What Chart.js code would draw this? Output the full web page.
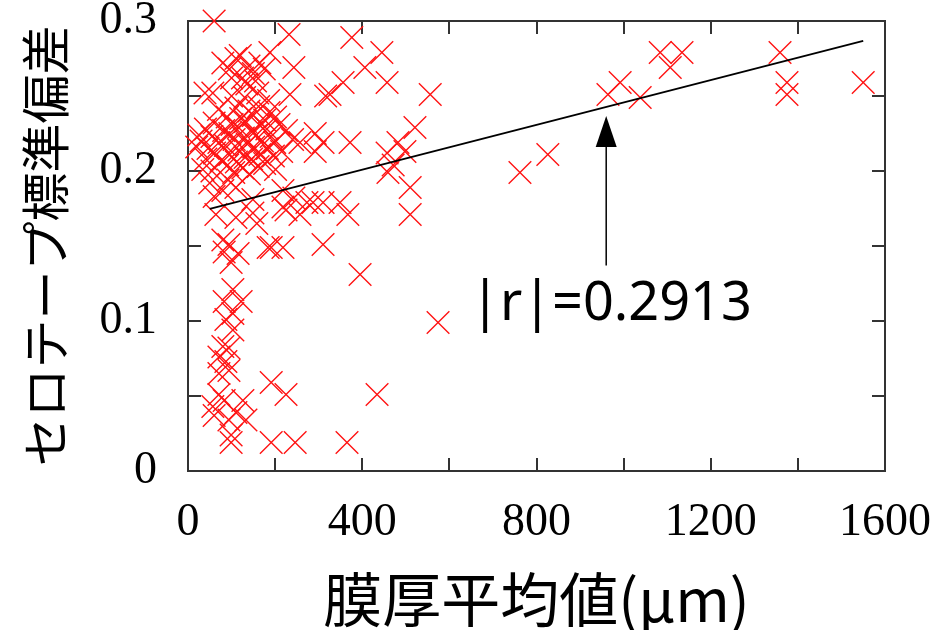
<!DOCTYPE html>
<html>
<head>
<meta charset="utf-8">
<script src="https://cdn.jsdelivr.net/npm/chart.js@4.4.1/dist/chart.umd.min.js"></script>
<style>
  html, body { margin: 0; padding: 0; background: #fff; }
  canvas { display: block; }
</style>
</head>
<body>
<canvas id="grafico" width="940" height="630"></canvas>
<script>
// datos (膜厚平均値 μm / セロテープ標準偏差)
var espesor = [
  60, 232, 188, 243, 376, 445, 406, 457, 356, 326, 316, 556, 521, 482, 372, 310, 292, 257, 292, 457,
  498, 471, 459, 510, 510, 273, 310, 349, 367, 257, 310, 218, 287, 762, 826, 964, 992, 1038, 1084, 1134,
  1107, 1359, 1375, 1375, 1550, 395, 574, 434, 365, 246, 191, 99, 191, 225,
  94, 83, 115, 99, 191, 184, 218, 103, 83, 122, 103, 87, 103, 80, 94, 71,
  87, 94, 71, 71, 83, 126, 57, 110, 60, 94, 133, 99,
  34, 110, 80, 60, 149, 218, 243, 64, 110, 149, 225, 50, 92, 158, 80,
  80, 95, 110, 125, 140, 150, 165, 175, 100, 120, 135, 155,
  39, 57, 100, 130, 160, 185, 234,
  70, 110, 140, 162, 186, 90, 121, 150, 176, 201, 60, 101, 132, 166, 209,
  40, 82, 116, 146, 181, 226, 25, 55, 96, 127, 157, 191,
  30, 71, 106, 136, 171, 199, 240, 20, 46, 86, 117, 151, 182, 215,
  61, 96, 131, 165, 196, 41, 76, 111, 146, 176, 91, 126, 161, 201, 55, 105, 141
];
var desviacion = [
  0.300, 0.291, 0.279, 0.269, 0.289, 0.279, 0.269, 0.259, 0.259, 0.251, 0.250, 0.251, 0.229, 0.219, 0.219, 0.219, 0.225, 0.219, 0.213, 0.212,
  0.213, 0.204, 0.199, 0.189, 0.171, 0.179, 0.179, 0.179, 0.171, 0.171, 0.151, 0.176, 0.179, 0.199, 0.211, 0.251, 0.259, 0.249, 0.279, 0.279,
  0.269, 0.279, 0.259, 0.251, 0.259, 0.131, 0.099, 0.051, 0.019, 0.019, 0.019, 0.019, 0.059, 0.051,
  0.151, 0.146, 0.145, 0.139, 0.149, 0.149, 0.149, 0.121, 0.113, 0.113, 0.105, 0.101, 0.094, 0.083, 0.082, 0.076,
  0.073, 0.067, 0.065, 0.051, 0.047, 0.047, 0.043, 0.039, 0.037, 0.034, 0.034, 0.024,
  0.201, 0.189, 0.187, 0.183, 0.181, 0.187, 0.182, 0.171, 0.169, 0.172, 0.174, 0.192, 0.194, 0.165, 0.154,
  0.272, 0.268, 0.275, 0.262, 0.270, 0.265, 0.272, 0.268, 0.262, 0.277, 0.258, 0.260,
  0.252, 0.252, 0.250, 0.249, 0.252, 0.247, 0.251,
  0.241, 0.242, 0.240, 0.243, 0.239, 0.236, 0.235, 0.237, 0.234, 0.236, 0.232, 0.231, 0.233, 0.230, 0.231,
  0.228, 0.227, 0.229, 0.226, 0.228, 0.227, 0.224, 0.223, 0.225, 0.222, 0.224, 0.223,
  0.220, 0.219, 0.221, 0.218, 0.220, 0.219, 0.221, 0.216, 0.215, 0.217, 0.214, 0.216, 0.215, 0.213,
  0.212, 0.211, 0.209, 0.211, 0.210, 0.208, 0.207, 0.206, 0.208, 0.205, 0.204, 0.202, 0.203, 0.201, 0.200, 0.199, 0.198
];

// recta de regresion
var rectaX = [50, 1550];
var rectaY = [0.1747, 0.2867];

var etiquetaR = '|r|=0.2913';

var puntos = espesor.map(function(x, i) { return {x: x, y: desviacion[i]}; });
var recta = rectaX.map(function(x, i) { return {x: x, y: rectaY[i]}; });

// flecha y texto (coordenadas en unidades de datos)
var flecha = {x: 960, desde: 0.137, hasta: 0.2367};
var posTexto = {x: 648, y: 0.1007};

function sinRelleno(s) {
  s.paddingTop = 0; s.paddingBottom = 0;
  s.paddingLeft = 0; s.paddingRight = 0;
}

var marco = {
  id: 'marco',
  beforeDatasetsDraw: function(chart) {
    var ctx = chart.ctx, a = chart.chartArea;
    var sx = chart.scales.x, sy = chart.scales.y;
    var largo = 13;
    ctx.save();
    ctx.strokeStyle = '#333';
    ctx.lineWidth = 2;
    ctx.beginPath();
    sx.ticks.forEach(function(t) {
      var p = Math.round(sx.getPixelForValue(t.value));
      ctx.moveTo(p, a.bottom); ctx.lineTo(p, a.bottom - largo);
      ctx.moveTo(p, a.top); ctx.lineTo(p, a.top + largo);
    });
    sy.ticks.forEach(function(t) {
      var p = Math.round(sy.getPixelForValue(t.value));
      ctx.moveTo(a.left, p); ctx.lineTo(a.left + largo, p);
      ctx.moveTo(a.right, p); ctx.lineTo(a.right - largo, p);
    });
    ctx.stroke();
    ctx.strokeRect(a.left, a.top, a.right - a.left, a.bottom - a.top);
    ctx.restore();
  },
  afterDatasetsDraw: function(chart) {
    var ctx = chart.ctx;
    var sx = chart.scales.x, sy = chart.scales.y;
    var fx = sx.getPixelForValue(flecha.x);
    var y0 = sy.getPixelForValue(flecha.desde);
    var y1 = sy.getPixelForValue(flecha.hasta);
    ctx.save();
    ctx.strokeStyle = '#000';
    ctx.fillStyle = '#000';
    ctx.lineWidth = 1.5;
    ctx.beginPath();
    ctx.moveTo(fx, y0);
    ctx.lineTo(fx, y1 + 25);
    ctx.stroke();
    ctx.beginPath();
    ctx.moveTo(fx, y1);
    ctx.lineTo(fx - 10.5, y1 + 31);
    ctx.lineTo(fx + 10.5, y1 + 31);
    ctx.closePath();
    ctx.fill();
    ctx.font = '54px "Noto Sans"';
    ctx.textAlign = 'left';
    ctx.textBaseline = 'alphabetic';
    ctx.fillText(etiquetaR, sx.getPixelForValue(posTexto.x), sy.getPixelForValue(posTexto.y));
    ctx.restore();
  }
};

var fuenteTicks = {family: '"Liberation Serif", "Times New Roman", serif', size: 46, lineHeight: 0.9};

new Chart(document.getElementById('grafico'), {
  type: 'scatter',
  data: {
    datasets: [
      {
        type: 'line',
        data: recta,
        borderColor: '#000',
        borderWidth: 1.8,
        pointRadius: 0,
        fill: false
      },
      {
        data: puntos,
        pointStyle: 'crossRot',
        pointRadius: 16,
        pointHoverRadius: 16,
        borderColor: 'rgb(255,20,20)',
        backgroundColor: 'rgb(255,20,20)',
        pointBorderWidth: 1.4,
        clip: false
      }
    ]
  },
  options: {
    responsive: false,
    animation: false,
    layout: {padding: {left: 0, right: 55, top: 21, bottom: 0}},
    plugins: {legend: {display: false}, tooltip: {enabled: false}},
    scales: {
      x: {
        type: 'linear',
        min: 0, max: 1600,
        grid: {display: false},
        border: {display: false},
        afterFit: function(s) { s.height = 159; sinRelleno(s); },
        ticks: {
          stepSize: 200,
          autoSkip: false,
          maxRotation: 0,
          padding: 23,
          color: '#000',
          font: fuenteTicks,
          callback: function(v) { return v % 400 === 0 ? String(v) : ''; }
        },
        title: {
          display: true,
          text: '膜厚平均値(μm)',
          color: '#000',
          font: {family: '"Noto Sans CJK JP", "Noto Sans", sans-serif', size: 59, lineHeight: 1},
          padding: {top: 0, bottom: 1}
        }
      },
      y: {
        min: 0, max: 0.3,
        grid: {display: false},
        border: {display: false},
        afterFit: function(s) { s.width = 188; sinRelleno(s); },
        ticks: {
          stepSize: 0.05,
          padding: 23,
          color: '#000',
          font: fuenteTicks,
          callback: function(v) {
            var k = Math.round(v * 100);
            return k % 10 === 0 ? String(k / 100) : '';
          }
        },
        title: {
          display: true,
          text: 'セロテープ標準偏差',
          color: '#000',
          font: {family: '"Noto Sans CJK JP", "Noto Sans", sans-serif', size: 49, lineHeight: 1.2},
          padding: {top: 16, bottom: 0}
        }
      }
    }
  },
  plugins: [marco]
});
</script>
</body>
</html>
